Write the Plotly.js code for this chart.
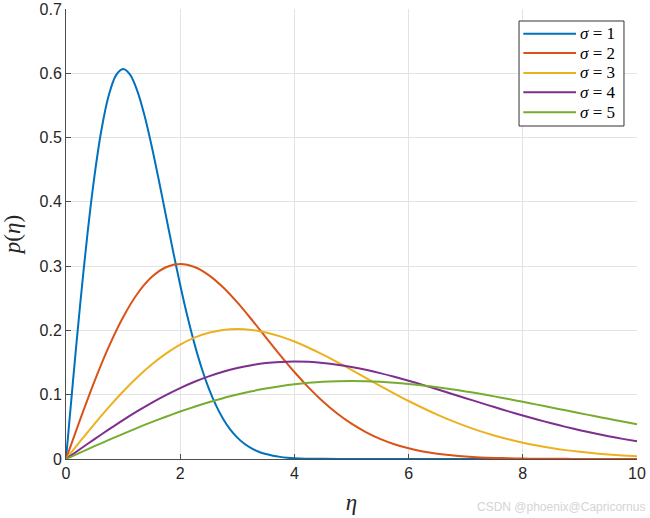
<!DOCTYPE html>
<html>
<head>
<meta charset="utf-8">
<script src="https://cdn.plot.ly/plotly-3.0.1.min.js"></script>
<style>html,body{margin:0;padding:0;background:#fff;}#chart{width:650px;height:518px;}</style>
</head>
<body>
<div id="chart"></div>
<script>
// eta sample positions (read every 0.25 along the x axis)
const eta = [0,0.25,0.5,0.75,1,1.25,1.5,1.75,2,2.25,2.5,2.75,3,3.25,3.5,3.75,4,4.25,4.5,4.75,5,5.25,5.5,5.75,6,6.25,6.5,6.75,7,7.25,7.5,7.75,8,8.25,8.5,8.75,9,9.25,9.5,9.75,10];
// finer positions for the narrow sigma = 1 curve
const eta1 = [0,0.125,0.25,0.375,0.5,0.625,0.75,0.875,1,1.125,1.25,1.375,1.5,1.625,1.75,1.875,2,2.125,2.25,2.375,2.5,2.625,2.75,2.875,3,3.125,3.25,3.375,3.5,3.625,3.75,3.875,4,4.5,5,6,7,8,9,10];

const sigma1 = [0,0.1240,0.2423,0.3495,0.4412,0.5141,0.5661,0.5967,0.6065,0.5975,0.5723,0.5343,0.4870,0.4340,0.3785,0.3233,0.2707,0.2223,0.1791,0.1416,0.1098,0.0838,0.0627,0.0461,0.0333,0.0237,0.0165,0.0113,0.0077,0.0051,0.0033,0.0021,0.0013,0.0002,0,0,0,0,0,0];
const sigma2 = [0,0.0620,0.1212,0.1748,0.2206,0.2571,0.2830,0.2983,0.3033,0.2987,0.2861,0.2671,0.2435,0.2170,0.1893,0.1617,0.1353,0.1111,0.0895,0.0708,0.0549,0.0419,0.0313,0.0230,0.0167,0.0118,0.0083,0.0057,0.0038,0.0025,0.0017,0.0011,0.0007,0.0004,0.0003,0.0002,0.0001,0,0,0,0];
const sigma3 = [0,0.0277,0.0548,0.0808,0.1051,0.1273,0.1471,0.1640,0.1779,0.1887,0.1963,0.2008,0.2022,0.2008,0.1969,0.1908,0.1827,0.1731,0.1623,0.1507,0.1386,0.1262,0.1138,0.1018,0.0902,0.0793,0.0691,0.0597,0.0511,0.0434,0.0366,0.0306,0.0254,0.0209,0.0171,0.0138,0.0111,0.0089,0.0070,0.0055,0.0043];
const sigma4 = [0,0.0156,0.0310,0.0460,0.0606,0.0744,0.0874,0.0994,0.1103,0.1201,0.1285,0.1357,0.1415,0.1460,0.1492,0.1510,0.1516,0.1511,0.1494,0.1467,0.1431,0.1387,0.1336,0.1279,0.1218,0.1152,0.1085,0.1016,0.0946,0.0877,0.0808,0.0741,0.0677,0.0615,0.0556,0.0500,0.0448,0.0399,0.0354,0.0313,0.0275];
const sigma5 = [0,0.0100,0.0199,0.0297,0.0392,0.0485,0.0574,0.0658,0.0738,0.0813,0.0882,0.0946,0.1002,0.1053,0.1096,0.1132,0.1162,0.1185,0.1201,0.1210,0.1213,0.1210,0.1201,0.1187,0.1168,0.1145,0.1117,0.1085,0.1051,0.1014,0.0974,0.0933,0.0890,0.0846,0.0801,0.0757,0.0713,0.0668,0.0625,0.0583,0.0541];

const seriesNames = ['<i>σ</i> = 1','<i>σ</i> = 2','<i>σ</i> = 3','<i>σ</i> = 4','<i>σ</i> = 5'];
const seriesX = [eta1, eta, eta, eta, eta];
const seriesData = [sigma1, sigma2, sigma3, sigma4, sigma5];
const colors = ['#0072BD','#D95319','#EDB120','#7E2F8E','#77AC30'];

const xTicks = [0,2,4,6,8,10];
const yTicks = [0,0.1,0.2,0.3,0.4,0.5,0.6,0.7];
const yTickText = ['0','0.1','0.2','0.3','0.4','0.5','0.6','0.7'];

const traces = seriesData.map((y, i) => ({
  x: seriesX[i], y: y, type: 'scatter', mode: 'lines', name: seriesNames[i],
  line: {color: colors[i], width: 2, shape: 'spline', smoothing: 0.8},
  showlegend: false
}));

// Legend drawn as paper-referenced shapes/annotations (box, sample lines, labels)
const L = {x0: 0.7934, x1: 0.9772, y0: 0.740, y1: 0.9733,
           lineX0: 0.8009, lineX1: 0.8932, textX: 0.8975,
           rowY: [0.9451, 0.9021, 0.8578, 0.8148, 0.7704]};
const shapes = [{type: 'rect', xref: 'paper', yref: 'paper', x0: L.x0, x1: L.x1, y0: L.y0, y1: L.y1,
  line: {color: '#333333', width: 1}, fillcolor: '#ffffff', layer: 'above'}];
const annotations = [];
seriesNames.forEach((n, i) => {
  shapes.push({type: 'line', xref: 'paper', yref: 'paper', x0: L.lineX0, x1: L.lineX1,
    y0: L.rowY[i], y1: L.rowY[i], line: {color: colors[i], width: 2}, layer: 'above'});
  annotations.push({text: n, xref: 'paper', yref: 'paper', x: L.textX, y: L.rowY[i],
    xanchor: 'left', yanchor: 'middle', showarrow: false,
    font: {family: 'Liberation Serif, DejaVu Serif, serif', size: 17, color: '#000000'}});
});
annotations.push({
  text: 'CSDN @phoenix@Capricornus', xref: 'paper', yref: 'paper',
  x: 1.018, y: -0.107, xanchor: 'right', yanchor: 'middle', showarrow: false,
  font: {family: 'Liberation Sans, Arial, sans-serif', size: 12, color: '#d4d4d4'}
});

const axisCommon = {
  showgrid: true, gridcolor: '#e3e3e3', gridwidth: 1,
  showline: true, linecolor: '#4d4d4d', linewidth: 1,
  ticks: 'inside', ticklen: 5, tickcolor: '#4d4d4d',
  zeroline: false, mirror: false,
  tickfont: {family: 'Liberation Sans, Arial, sans-serif', size: 16, color: '#262626'}
};

const layout = {
  width: 650, height: 518,
  margin: {l: 66, r: 13, t: 9, b: 59},
  paper_bgcolor: '#ffffff', plot_bgcolor: '#ffffff',
  showlegend: false,
  xaxis: Object.assign({}, axisCommon, {
    range: [0, 10], tickvals: xTicks, ticktext: xTicks.map(String),
    title: {text: '<i>η</i>', font: {family: 'Liberation Serif, DejaVu Serif, serif', size: 23, color: '#262626'}, standoff: 12}
  }),
  yaxis: Object.assign({}, axisCommon, {
    range: [0, 0.7], tickvals: yTicks, ticktext: yTickText,
    title: {text: '<i>p</i>(<i>η</i>)', font: {family: 'Liberation Serif, DejaVu Serif, serif', size: 23, color: '#262626'}, standoff: 12}
  }),
  shapes: shapes,
  annotations: annotations
};

Plotly.newPlot('chart', traces, layout, {displayModeBar: false, staticPlot: true});
</script>
</body>
</html>
